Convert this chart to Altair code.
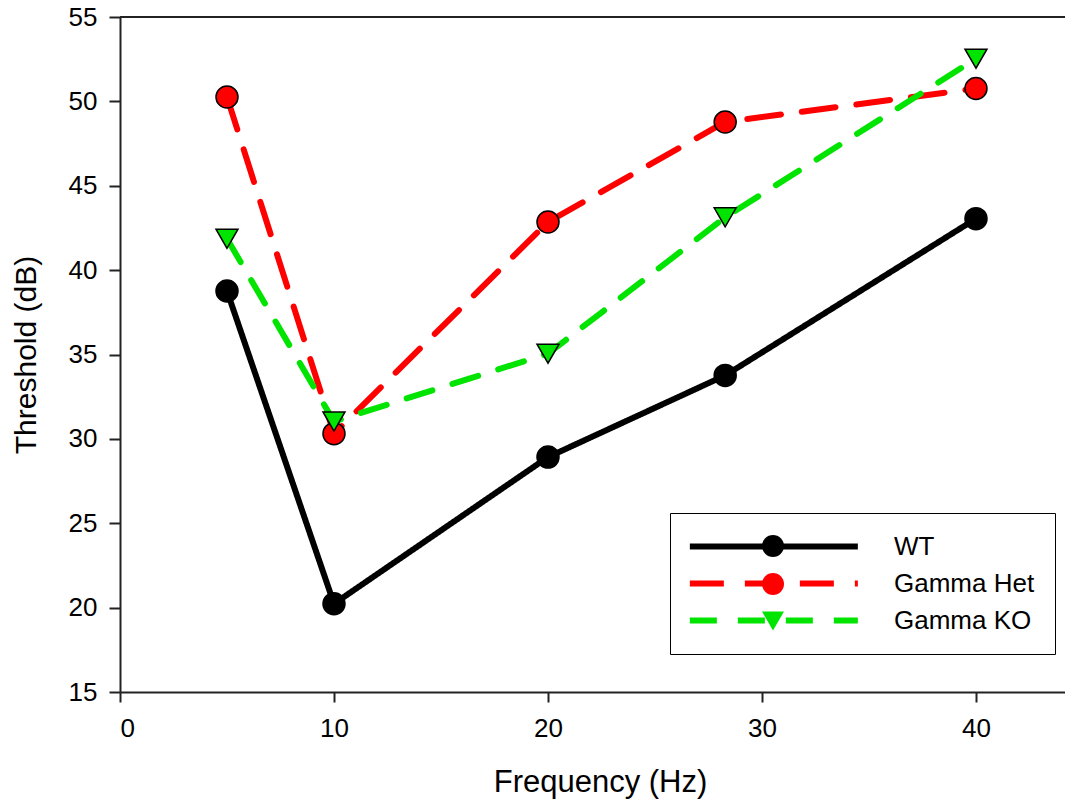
import altair as alt
import pandas as pd

# ---- data ----
freq = [5, 10, 20, 28.28, 40]
wt = [38.76, 20.23, 28.92, 33.76, 43.05]
het = [50.26, 30.31, 42.85, 48.78, 50.76]
ko = [41.86, 31.03, 35.05, 43.13, 52.53]
series_names = ["WT", "Gamma Het", "Gamma KO"]
x_ticks = [0, 10, 20, 30, 40]
y_ticks = [15, 20, 25, 30, 35, 40, 45, 50, 55]

# ---- styles ----
series_colors = ["#000000", "#ff0000", "#00e400"]
series_dash = [[1, 0], [34, 21], [27, 21]]
series_shapes = ["circle", "circle", "triangle-down"]
FONT = "Liberation Sans"

pt_names = ["pt_" + n for n in series_names]
rows = []
for name, pname, vals in zip(series_names, pt_names, [wt, het, ko]):
    for f, v in zip(freq, vals):
        rows.append({"freq": f, "thr": v, "series": name, "series_pt": pname})
df = pd.DataFrame(rows)

x_enc = alt.X(
    "freq:Q",
    scale=alt.Scale(domain=[0, 44.16], nice=False, zero=False),
    axis=alt.Axis(values=x_ticks, title="Frequency (Hz)", tickSize=10, labelPadding=13,
                  titlePadding=26, titleX=480, format="d"),
)
y_enc = alt.Y(
    "thr:Q",
    scale=alt.Scale(domain=[15, 55], nice=False, zero=False),
    axis=alt.Axis(values=y_ticks, title="Threshold (dB)", tickSize=11, labelPadding=12,
                  titlePadding=27, titleFontSize=30, format="d"),
)

leg_line = alt.Legend(
    title=None, orient="none", legendX=550, legendY=496,
    symbolType="M -1.3 0 L 14.7 0", symbolSize=441, symbolStrokeWidth=6,
    labelFontSize=26, labelFont=FONT, labelColor="black", labelOffset=177,
    rowPadding=10, padding=20, strokeColor="black", fillColor="white",
)
leg_pt = alt.Legend(
    title=None, orient="none", legendX=640, legendY=516,
    symbolSize=484, symbolStrokeColor="black", symbolStrokeWidth=1.5,
    labelFontSize=26, labelFont=FONT, labelExpr="''", labelOffset=0,
    rowPadding=10, padding=0,
)

top_rule = alt.Chart(df).mark_rule(color="#222", strokeWidth=2).encode(y=alt.datum(55))

lines = alt.Chart(df).mark_line(strokeWidth=6, strokeCap="round", strokeJoin="round").encode(
    x=x_enc,
    y=y_enc,
    color=alt.Color("series:N", scale=alt.Scale(domain=series_names, range=series_colors), legend=leg_line),
    strokeDash=alt.StrokeDash("series:N", scale=alt.Scale(domain=series_names, range=series_dash), legend=leg_line),
)

points = alt.Chart(df).mark_point(filled=True, size=484, stroke="black", strokeWidth=1.5, opacity=1).encode(
    x=x_enc,
    y=y_enc,
    fill=alt.Fill("series_pt:N", scale=alt.Scale(domain=pt_names, range=series_colors), legend=leg_pt),
    shape=alt.Shape("series_pt:N", scale=alt.Scale(domain=pt_names, range=series_shapes), legend=leg_pt),
)

chart = (
    alt.layer(top_rule, lines, points)
    .properties(
        width=945,
        height=675,
        autosize=alt.AutoSizeParams(type="none"),
        padding={"left": 112, "top": 9, "right": 0, "bottom": 110},
        background="white",
    )
    .configure_view(stroke=None)
    .configure_axis(
        domainColor="#222", domainWidth=2, tickColor="#222", tickWidth=2,
        labelFont=FONT, labelFontSize=26, labelColor="black",
        titleFont=FONT, titleFontSize=31, titleFontWeight="normal", titleColor="black",
        grid=False,
    )
)

chart.save("out.html", embed_options={"renderer": "svg", "actions": False})
